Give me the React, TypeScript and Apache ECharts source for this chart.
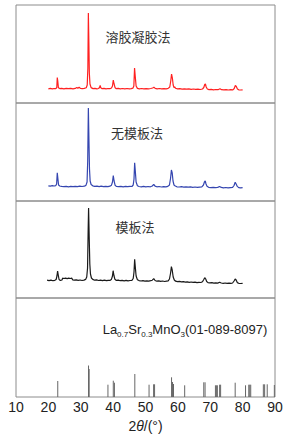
import React, { useEffect, useRef } from "react";
import * as echarts from "echarts";

// 2θ (deg), intensity (arbitrary units, panel scale)
const solGelXRD: number[][] = [
  [20.0,14.2],[20.6,14.6],[21.2,14.1],[21.8,14.5],[22.3,14.3],[22.6,15.5],[22.75,25.5],[22.9,22],[23.1,15.2],[23.5,14.4],[24.1,14.7],[24.8,14.2],[25.5,14.6],[26.2,14.3],[26.9,14.7],[27.6,14.2],[28.3,14.6],[28.8,15.6],[29.1,14.8],[29.5,15.8],[29.9,14.6],[30.5,14.3],[31.1,14.6],[31.7,15.2],[32.0,18],[32.2,35],[32.35,90],[32.5,62],[32.65,30],[32.85,19],[33.2,15.4],[33.8,14.4],[34.4,14.6],[35.0,14.2],[35.5,14.5],[35.8,15.5],[36.0,17.5],[36.2,15.2],[36.6,14.3],[37.2,14.6],[37.8,14.2],[38.4,14.5],[39.0,14.3],[39.5,15],[39.8,17],[40.05,23],[40.3,19],[40.6,15.3],[41.0,14.3],[41.6,14.6],[42.2,14.2],[42.9,14.5],[43.6,14.1],[44.3,14.5],[45.0,14.2],[45.6,14.4],[46.1,14.8],[46.4,17],[46.62,35],[46.85,26],[47.1,17],[47.5,14.6],[48.1,14.2],[48.8,14.5],[49.5,14.1],[50.2,14.4],[50.9,14.2],[51.6,14.5],[52.2,15],[52.6,15.8],[53.0,14.6],[53.6,14.2],[54.3,14.5],[55.0,14.1],[55.7,14.4],[56.4,14.2],[57.0,14.6],[57.5,16],[57.8,22],[58.05,29],[58.3,25],[58.55,18],[58.8,15.5],[59.0,16.2],[59.3,14.7],[59.9,14.1],[60.6,14.3],[61.3,13.9],[62.0,14.2],[62.7,13.8],[63.4,14.1],[64.1,13.7],[64.8,14.0],[65.5,13.6],[66.2,13.9],[66.9,13.5],[67.6,14],[68.0,15.5],[68.3,18.5],[68.5,19],[68.75,16],[69.1,14],[69.6,13.4],[70.3,13.6],[71.0,13.2],[71.7,13.5],[72.4,13.3],[73.0,14.2],[73.5,13.3],[74.2,13.1],[74.9,13.4],[75.6,13.0],[76.3,13.3],[77.0,13.2],[77.4,14.5],[77.75,17.5],[78.05,16.5],[78.4,14],[78.8,13.2],[79.4,13],[80.0,13.2]
];

const noTemplateXRD: number[][] = [
  [20.0,15.2],[20.6,14.9],[21.2,15.3],[21.8,15.0],[22.3,15.4],[22.55,17],[22.75,28.3],[22.95,22],[23.15,16],[23.5,15],[24.1,14.6],[24.8,14.3],[25.5,14.7],[26.2,14.2],[26.9,14.6],[27.6,14.4],[28.3,14.7],[29.0,14.3],[29.7,14.9],[30.4,14.5],[31.1,14.8],[31.6,15.6],[31.95,19],[32.15,40],[32.35,93],[32.5,66],[32.7,32],[32.9,20],[33.2,16.5],[33.7,15.2],[34.3,14.7],[35.0,14.9],[35.7,14.4],[36.3,14.8],[37.0,14.3],[37.7,14.7],[38.4,14.3],[39.0,14.8],[39.5,15.8],[39.8,19],[40.05,25.3],[40.3,20],[40.6,15.8],[41.0,14.6],[41.7,14.3],[42.4,14.7],[43.1,14.2],[43.8,14.6],[44.5,14.3],[45.2,14.6],[45.8,14.5],[46.2,16],[46.45,22],[46.65,38.3],[46.85,30],[47.1,19],[47.5,15.3],[48.0,14.5],[48.7,14.2],[49.4,14.6],[50.1,14.1],[50.8,14.5],[51.5,14.2],[52.1,15],[52.55,16.7],[52.95,14.9],[53.5,14.2],[54.2,14.5],[54.9,14.0],[55.6,14.4],[56.3,14.1],[56.9,14.6],[57.4,16],[57.75,23],[58.0,31],[58.25,28],[58.5,20],[58.8,16],[59.2,15],[59.7,14.2],[60.4,14.0],[61.1,14.3],[61.8,13.9],[62.5,14.2],[63.2,13.8],[63.9,14.1],[64.6,13.7],[65.3,14.0],[66.0,13.6],[66.7,13.9],[67.4,14.2],[67.9,16],[68.2,19],[68.45,20],[68.7,17],[69.0,14.8],[69.5,13.7],[70.2,13.4],[70.9,13.7],[71.6,13.3],[72.3,13.6],[72.9,14.5],[73.4,13.6],[74.1,13.2],[74.8,13.5],[75.5,13.1],[76.2,13.4],[76.9,13.6],[77.35,15.5],[77.7,18.7],[78.0,17],[78.35,14.6],[78.8,13.4],[79.4,13.1],[80.0,13.3]
];

const templateXRD: number[][] = [
  [19.6,17.8],[20.2,17.4],[20.8,17.9],[21.4,17.3],[22.0,17.7],[22.4,18.5],[22.65,22],[22.85,27],[23.05,23],[23.3,18.5],[23.7,17.6],[24.2,18],[24.4,19.8],[24.8,19.5],[25.3,19.9],[25.8,19.4],[26.3,19.8],[26.8,19.5],[27.2,19.9],[27.5,18.2],[28.0,17.8],[28.6,18.1],[29.2,17.6],[29.8,18.0],[30.4,17.5],[31.0,17.9],[31.5,18.6],[31.85,21],[32.1,30],[32.3,70],[32.42,90],[32.6,62],[32.8,34],[33.0,24],[33.3,20],[33.7,18.6],[34.3,17.8],[34.9,18.1],[35.5,17.5],[36.1,17.9],[36.7,17.4],[37.3,17.8],[37.9,17.3],[38.5,17.7],[39.1,17.6],[39.5,18.8],[39.8,22],[40.0,27.3],[40.25,22.5],[40.55,18.7],[41.0,17.6],[41.6,17.9],[42.2,17.3],[42.8,17.7],[43.4,17.2],[44.0,17.6],[44.6,17.1],[45.2,17.5],[45.8,17.6],[46.2,19.5],[46.45,26],[46.65,38.7],[46.85,31],[47.1,22],[47.5,18.3],[48.0,17.4],[48.6,17.0],[49.2,17.4],[49.8,16.9],[50.4,17.2],[51.0,16.8],[51.6,17.3],[52.1,17.8],[52.55,19.3],[52.95,17.5],[53.5,16.8],[54.1,17.1],[54.7,16.6],[55.3,17.0],[55.9,16.5],[56.5,16.9],[57.0,17.2],[57.4,19],[57.75,25],[58.0,31.3],[58.25,28],[58.55,21],[58.9,18],[59.3,16.8],[59.9,16.3],[60.5,16.6],[61.1,16.1],[61.7,16.4],[62.3,15.9],[62.9,16.2],[63.5,15.7],[64.1,16.0],[64.7,15.6],[65.3,15.9],[65.9,15.4],[66.5,15.7],[67.1,15.5],[67.6,16.2],[68.0,18.5],[68.3,20.3],[68.6,19],[68.9,16.5],[69.3,15.4],[69.9,15.1],[70.5,15.4],[71.1,14.9],[71.7,15.2],[72.3,14.9],[72.9,15.8],[73.4,15.0],[74.0,14.7],[74.6,15.0],[75.2,14.6],[75.8,14.9],[76.4,14.6],[76.9,15.0],[77.35,17],[77.7,19],[78.0,18],[78.35,15.4],[78.8,14.7],[79.4,14.5],[80.0,14.7]
];

// Reference card 01-089-8097 line positions and relative intensities
const refPositions: number[] = [22.9, 32.4, 32.6, 38.4, 40.05, 40.4, 46.7, 51.1, 52.5, 52.8, 58.05, 58.35, 58.65, 62.1, 68.0, 68.4, 71.6, 71.9, 72.2, 72.9, 73.2, 77.7, 80.9, 81.9, 82.2, 82.5, 86.4, 86.8, 87.6, 89.8];
const refIntensities: number[] = [16, 31.5, 28, 12.3, 16.3, 14.3, 23, 12.3, 12.7, 12.7, 19.7, 15, 13, 11.7, 14.7, 14.7, 11.7, 11.7, 11.7, 12.3, 12.3, 14.3, 11.7, 12.3, 12.3, 12.3, 12.7, 12.7, 12.7, 12];

const xTicks: number[] = [10, 20, 30, 40, 50, 60, 70, 80, 90];
const panelLabels: string[] = ["溶胶凝胶法", "无模板法", "模板法"];

export default function App() {
  const ref = useRef<HTMLDivElement>(null);
  useEffect(() => {
    if (!ref.current) return;
    const chart = echarts.init(ref.current, undefined, { renderer: "svg" });
    const tops = [5, 103, 201, 298];
    const heights = [98, 98, 97, 99];
    const grids = tops.map((t, i) => ({
      left: 16, right: 30, top: t, height: heights[i],
      show: true, borderColor: "#8c8c8c", borderWidth: 1, backgroundColor: "transparent",
    }));
    const xAxes = tops.map((_, i) => ({
      type: "value", gridIndex: i, min: xTicks[0], max: xTicks[xTicks.length - 1], interval: 10,
      show: i === 3,
      axisLine: { show: false }, axisTick: { show: false }, splitLine: { show: false },
      axisLabel: { show: i === 3, color: "#222", fontSize: 14, fontFamily: "Liberation Sans, Arial", margin: 3 },
      name: i === 3 ? "{n|2}{i|θ}{n|/(°)}" : "",
      nameLocation: "middle", nameGap: 22,
      nameTextStyle: {
        rich: {
          n: { fontSize: 14, color: "#222", fontFamily: "Liberation Sans, Arial" },
          i: { fontSize: 14, color: "#222", fontStyle: "italic", fontFamily: "Liberation Sans, Arial" },
        },
      },
    }));
    const yAxes = tops.map((_, i) => ({
      type: "value", gridIndex: i, min: 0, max: heights[i], show: false,
    }));
    const lineSeries = (data: number[][], idx: number, color: string) => ({
      type: "line", xAxisIndex: idx, yAxisIndex: idx, data, showSymbol: false, symbol: "none",
      lineStyle: { color, width: 1.2 }, smooth: false,
    });
    const labelY = [36, 132, 226];
    const labelX = [138, 137, 135];
    chart.setOption({
      animation: false,
      backgroundColor: "#fff",
      grid: grids,
      xAxis: xAxes,
      yAxis: yAxes,
      series: [
        lineSeries(solGelXRD, 0, "#ff2020"),
        lineSeries(noTemplateXRD, 1, "#3546b0"),
        lineSeries(templateXRD, 2, "#1a1a1a"),
        {
          type: "custom", xAxisIndex: 3, yAxisIndex: 3,
          data: refPositions.map((p, i) => [p, refIntensities[i]]),
          renderItem: (params: any, api: any) => {
            const p0 = api.coord([api.value(0), 0]);
            const p1 = api.coord([api.value(0), api.value(1)]);
            return {
              type: "line",
              shape: { x1: p0[0], y1: p0[1], x2: p1[0], y2: p1[1] },
              style: { stroke: "#666", lineWidth: 1 },
            };
          },
        },
      ],
      graphic: [
        ...panelLabels.map((t, i) => ({
          type: "text", x: labelX[i], y: labelY[i],
          style: {
            text: t, fill: "#333", fontSize: 13, fontFamily: "Noto Sans CJK SC",
            align: "center", verticalAlign: "middle",
          },
        })),
        {
          type: "text", x: 185, y: 329,
          style: {
            text: "{n|La}{s|0.7}{n|Sr}{s|0.3}{n|MnO}{s|3}{n|(01-089-8097)}",
            align: "center", verticalAlign: "middle",
            rich: {
              n: { fontSize: 13, fill: "#222", fontFamily: "Liberation Sans, Arial", lineHeight: 18, verticalAlign: "middle" },
              s: { fontSize: 8, fill: "#222", fontFamily: "Liberation Sans, Arial", lineHeight: 18, verticalAlign: "bottom" },
            },
          },
        },
      ],
    });
    return () => chart.dispose();
  }, []);
  return <div ref={ref} style={{ position: "fixed", left: 0, top: 0, width: 305, height: 438, background: "#fff" }} />;
}
